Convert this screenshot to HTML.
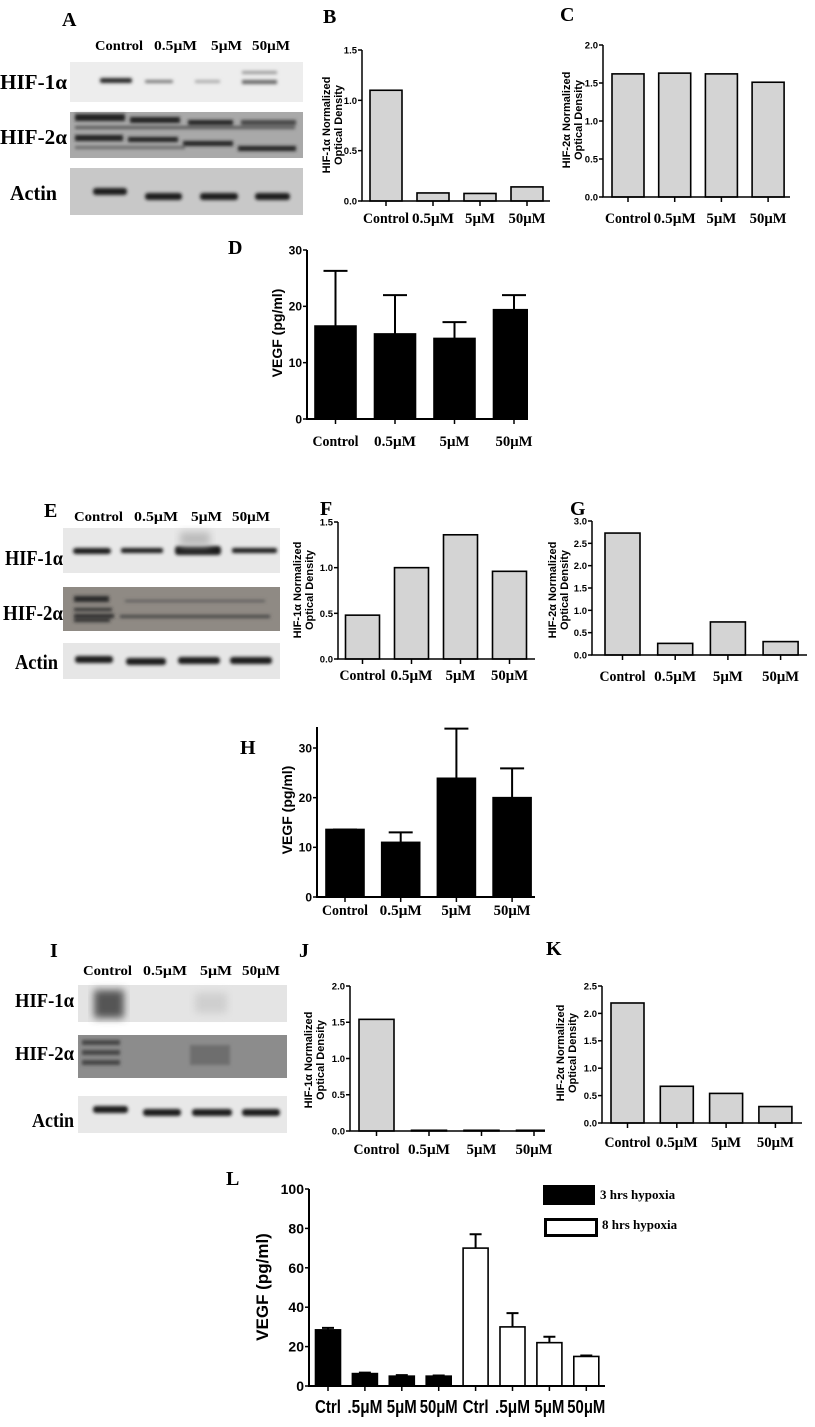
<!DOCTYPE html>
<html><head><meta charset="utf-8"><style>
html,body{margin:0;padding:0;background:#fff}
svg{display:block}
.lt{font-family:"Liberation Serif",serif;font-weight:bold;fill:#000}
.ax{font-family:"Liberation Sans",sans-serif;font-weight:bold;fill:#000}
</style></head><body>
<svg id="fig" width="815" height="1427" viewBox="0 0 815 1427" xmlns="http://www.w3.org/2000/svg">
<defs>
<filter id="bl" x="-20%" y="-50%" width="140%" height="200%"><feGaussianBlur stdDeviation="1.6"/></filter>
<filter id="bl2" x="-20%" y="-50%" width="140%" height="200%"><feGaussianBlur stdDeviation="4"/></filter>
</defs>

<g class="lt" font-size="20">
<text x="62" y="26">A</text>
<text x="323" y="23">B</text>
<text x="560" y="21">C</text>
<text x="228" y="254">D</text>
<text x="44" y="517">E</text>
<text x="320" y="515">F</text>
<text x="570" y="515">G</text>
<text x="240" y="754">H</text>
<text x="50" y="957">I</text>
<text x="299" y="957">J</text>
<text x="546" y="955">K</text>
<text x="226" y="1185">L</text>
</g>

<g>
<g class="lt" font-size="14">
<text x="95" y="50" textLength="48" lengthAdjust="spacingAndGlyphs">Control</text>
<text x="154" y="50" textLength="43" lengthAdjust="spacingAndGlyphs">0.5μM</text>
<text x="211" y="50" textLength="31" lengthAdjust="spacingAndGlyphs">5μM</text>
<text x="252" y="50" textLength="38" lengthAdjust="spacingAndGlyphs">50μM</text>
</g>
<g class="lt" font-size="21">
<text x="0" y="89" textLength="67" lengthAdjust="spacingAndGlyphs">HIF-1α</text>
<text x="0" y="144" textLength="67" lengthAdjust="spacingAndGlyphs">HIF-2α</text>
<text x="10" y="200" textLength="47" lengthAdjust="spacingAndGlyphs">Actin</text>
</g>
<rect x="70" y="62" width="233" height="40" fill="#ededed"/>
<g filter="url(#bl)" fill="#2a2a2a">
<rect x="100" y="78" width="32" height="5" rx="2"/>
<rect x="145" y="80" width="28" height="3" rx="1" fill="#777"/>
<rect x="195" y="80" width="25" height="3" fill="#aaa"/>
<rect x="242" y="80" width="35" height="4" fill="#666"/>
<rect x="242" y="71" width="35" height="3" fill="#999"/>
</g>
<rect x="70" y="112" width="233" height="46" fill="#a9a9a9"/>
<g filter="url(#bl)" fill="#222">
<rect x="75" y="114" width="50" height="7"/><rect x="130" y="117" width="50" height="6"/><rect x="188" y="120" width="45" height="5"/><rect x="241" y="120" width="55" height="5" fill="#444"/>
<rect x="75" y="126" width="220" height="3" fill="#555"/>
<rect x="75" y="135" width="48" height="6"/><rect x="128" y="137" width="50" height="5"/><rect x="183" y="141" width="50" height="5"/><rect x="238" y="146" width="58" height="5"/>
<rect x="75" y="146" width="110" height="3" fill="#666"/>
</g>
<rect x="70" y="168" width="233" height="47" fill="#c8c8c8"/>
<g filter="url(#bl)" fill="#1e1e1e">
<rect x="93" y="188" width="34" height="7" rx="3"/><rect x="145" y="193" width="37" height="7" rx="3"/><rect x="200" y="193" width="38" height="7" rx="3"/><rect x="255" y="193" width="35" height="7" rx="3"/>
</g>
</g>

<g>
<g class="lt" font-size="14">
<text x="74" y="521" textLength="49" lengthAdjust="spacingAndGlyphs">Control</text>
<text x="134" y="521" textLength="44" lengthAdjust="spacingAndGlyphs">0.5μM</text>
<text x="191" y="521" textLength="31" lengthAdjust="spacingAndGlyphs">5μM</text>
<text x="232" y="521" textLength="38" lengthAdjust="spacingAndGlyphs">50μM</text>
</g>
<g class="lt" font-size="21">
<text x="5" y="565" textLength="58" lengthAdjust="spacingAndGlyphs">HIF-1α</text>
<text x="3" y="620" textLength="60" lengthAdjust="spacingAndGlyphs">HIF-2α</text>
<text x="15" y="669" textLength="43" lengthAdjust="spacingAndGlyphs">Actin</text>
</g>
<rect x="63" y="528" width="217" height="45" fill="#e8e8e8"/>
<g filter="url(#bl)" fill="#1e1e1e">
<rect x="73" y="548" width="38" height="6" rx="3"/><rect x="121" y="548" width="42" height="5" rx="2"/><rect x="175" y="546" width="46" height="9" rx="3"/><rect x="232" y="548" width="45" height="5" rx="2"/>
</g>
<rect x="180" y="532" width="30" height="14" fill="#bbb" filter="url(#bl2)"/>
<rect x="63" y="587" width="217" height="44" fill="#8f8a84"/>
<g filter="url(#bl)" fill="#2a2a2a">
<rect x="74" y="596" width="35" height="6"/><rect x="74" y="608" width="38" height="3"/><rect x="74" y="614" width="40" height="4"/><rect x="74" y="619" width="36" height="3"/>
<rect x="120" y="615" width="150" height="3" fill="#444"/><rect x="125" y="600" width="140" height="2" fill="#555"/>
</g>
<rect x="63" y="643" width="217" height="36" fill="#e6e6e6"/>
<g filter="url(#bl)" fill="#1a1a1a">
<rect x="75" y="656" width="38" height="7" rx="3"/><rect x="126" y="658" width="40" height="7" rx="3"/><rect x="178" y="657" width="42" height="7" rx="3"/><rect x="230" y="657" width="42" height="7" rx="3"/>
</g>
</g>

<g>
<g class="lt" font-size="14">
<text x="83" y="975" textLength="49" lengthAdjust="spacingAndGlyphs">Control</text>
<text x="143" y="975" textLength="44" lengthAdjust="spacingAndGlyphs">0.5μM</text>
<text x="200" y="975" textLength="32" lengthAdjust="spacingAndGlyphs">5μM</text>
<text x="242" y="975" textLength="38" lengthAdjust="spacingAndGlyphs">50μM</text>
</g>
<g class="lt" font-size="20">
<text x="15" y="1007" textLength="59" lengthAdjust="spacingAndGlyphs">HIF-1α</text>
<text x="15" y="1060" textLength="59" lengthAdjust="spacingAndGlyphs">HIF-2α</text>
<text x="32" y="1127" textLength="42" lengthAdjust="spacingAndGlyphs">Actin</text>
</g>
<rect x="78" y="985" width="209" height="37" fill="#e4e4e4"/>
<rect x="94" y="990" width="30" height="28" fill="#555" filter="url(#bl2)"/>
<rect x="195" y="993" width="32" height="20" fill="#cfcfcf" filter="url(#bl2)"/>
<rect x="78" y="1035" width="209" height="43" fill="#8c8c8c"/>
<g filter="url(#bl)" fill="#444">
<rect x="82" y="1040" width="38" height="5"/><rect x="82" y="1050" width="38" height="5"/><rect x="82" y="1060" width="38" height="5"/>
<rect x="190" y="1045" width="40" height="20" fill="#6e6e6e"/>
</g>
<rect x="78" y="1096" width="209" height="37" fill="#e8e8e8"/>
<g filter="url(#bl)" fill="#1a1a1a">
<rect x="93" y="1106" width="35" height="7" rx="3"/><rect x="143" y="1109" width="38" height="7" rx="3"/><rect x="192" y="1109" width="40" height="7" rx="3"/><rect x="242" y="1109" width="38" height="7" rx="3"/>
</g>
</g>

<g id="charts"></g>
</svg>
<script>
const NS = "http://www.w3.org/2000/svg";
const cats = ["Control", "0.5μM", "5μM", "50μM"];
const catsL = ["Ctrl", ".5μM", "5μM", "50μM", "Ctrl", ".5μM", "5μM", "50μM"];
const bVals = [1.10, 0.08, 0.075, 0.14];
const bTicks = ["0.0", "0.5", "1.0", "1.5"];
const cVals = [1.62, 1.63, 1.62, 1.51];
const cTicks = ["0.0", "0.5", "1.0", "1.5", "2.0"];
const dVals = [16.5, 15.1, 14.3, 19.4];
const dErr = [26.3, 22.0, 17.2, 22.0];
const dTicks = ["0", "10", "20", "30"];
const fVals = [0.48, 1.00, 1.36, 0.96];
const fTicks = ["0.0", "0.5", "1.0", "1.5"];
const gVals = [2.73, 0.26, 0.74, 0.30];
const gTicks = ["0.0", "0.5", "1.0", "1.5", "2.0", "2.5", "3.0"];
const hVals = [13.6, 11.0, 23.9, 20.0];
const hErr = [13.6, 13.0, 33.9, 25.9];
const hTicks = ["0", "10", "20", "30"];
const jVals = [1.54, 0.01, 0.01, 0.01];
const jTicks = ["0.0", "0.5", "1.0", "1.5", "2.0"];
const kVals = [2.19, 0.67, 0.54, 0.30];
const kTicks = ["0.0", "0.5", "1.0", "1.5", "2.0", "2.5"];
const lVals = [28.5, 6.3, 5.0, 5.0, 70, 30, 22, 15];
const lErr = [29.5, 6.8, 5.5, 5.3, 77, 37, 25, 15.5];
const lTicks = ["0", "20", "40", "60", "80", "100"];
const lSeries = ["3 hrs  hypoxia", "8 hrs hypoxia"];

const labelW = {"Control": 46, "0.5μM": 42, "5μM": 30, "50μM": 37};
const labelWL = {"Ctrl": 26, ".5μM": 35, "5μM": 30, "50μM": 38};

const root = document.getElementById("charts");
function mk(tag, attrs, parent) {
  const e = document.createElementNS(NS, tag);
  for (const k in attrs) e.setAttribute(k, attrs[k]);
  parent.appendChild(e);
  return e;
}

function chart(name, cfg, labels, vals, errs, ticks, fillFn) {
  const g = mk("g", {}, root);
  
  
  const tmax = parseFloat(ticks[ticks.length - 1]);
  const y = v => cfg.y0 - v / tmax * (cfg.y0 - cfg.yTop);
  const x = i => cfg.c0 + i * cfg.step;
  const clipId = name + "-clip";
  const cp = mk("clipPath", {id: clipId}, g);
  mk("rect", {x: cfg.ax, y: 0, width: cfg.xEnd - cfg.ax, height: 1427}, cp);
  const bars = mk("g", {"clip-path": "url(#" + clipId + ")"}, g);
  vals.forEach((v, i) => {
    const r = mk("rect", {x: x(i) - cfg.bw / 2, y: y(v), width: cfg.bw, height: Math.max(0.5, cfg.y0 - y(v)),
      fill: fillFn(i), stroke: "#000", "stroke-width": cfg.sw || 1.6}, bars);
    
    
    if (errs) {
      const eg = mk("path", {d: "M" + x(i) + " " + y(v) + "V" + y(errs[i]) + "M" + (x(i) - cfg.cap) + " " + y(errs[i]) + "H" + (x(i) + cfg.cap),
        stroke: "#000", "stroke-width": 2, fill: "none"}, g);
      
      
    }
  });
  const axis = mk("path", {d: "M" + cfg.ax + " " + (cfg.axTop || cfg.yTop) + "V" + cfg.y0 + "H" + cfg.xEnd, stroke: "#000", "stroke-width": cfg.aw || 1.5, fill: "none"}, g);
  
  
  ticks.forEach(t => {
    const v = parseFloat(t);
    mk("path", {d: "M" + (cfg.ax - 4) + " " + y(v) + "H" + cfg.ax, stroke: "#000", "stroke-width": 1.5}, g);
    const tx = mk("text", {x: cfg.ax - 5, y: y(v) + cfg.tf * 0.36, "text-anchor": "end", class: "ax", "font-size": cfg.tf}, g);
    
    
    tx.textContent = t;
  });
  const widths = cfg.lw || labelW;
  labels.forEach((c, i) => {
    mk("path", {d: "M" + x(i) + " " + cfg.y0 + "v5", stroke: "#000", "stroke-width": 1.5}, g);
    const tx = mk("text", {x: x(i), y: cfg.ly, "text-anchor": "middle", class: cfg.lcls || "lt", "font-size": cfg.lf,
      textLength: widths[c], lengthAdjust: "spacingAndGlyphs"}, g);
    
    
    tx.textContent = c;
  });
  const tg = mk("text", {transform: "translate(" + cfg.tx + "," + cfg.ty + ") rotate(-90)", "text-anchor": "middle", class: "ax", "font-size": cfg.ttf}, g);
  
  
  cfg.title.forEach((line, k) => {
    const ts = mk("tspan", {x: 0, dy: k === 0 ? 0 : cfg.ttf * 1.1}, tg);
    ts.textContent = line;
  });
}

const grey = () => "#d4d4d4";
const black = () => "#000";
const odTitle1 = ["HIF-1α Normalized", "Optical Density"];
const odTitle2 = ["HIF-2α Normalized", "Optical Density"];

chart("chart-b", {ax: 362, xEnd: 550, c0: 386, step: 47, bw: 32, y0: 201, yTop: 50, tf: 9.5, ly: 223, lf: 15, tx: 330, ty: 125, ttf: 11, title: odTitle1}, cats, bVals, null, bTicks, grey);
chart("chart-c", {ax: 603, xEnd: 790, c0: 628, step: 46.7, bw: 32, y0: 197, yTop: 45, tf: 9.5, ly: 223, lf: 15, tx: 570, ty: 120, ttf: 11, title: odTitle2}, cats, cVals, null, cTicks, grey);
chart("chart-d", {ax: 307, xEnd: 528, c0: 335.5, step: 59.5, bw: 41, y0: 419, yTop: 250, tf: 12, ly: 446, lf: 15, tx: 282, ty: 333, ttf: 14, title: ["VEGF (pg/ml)"], cap: 12, aw: 2}, cats, dVals, dErr, dTicks, black);
chart("chart-f", {ax: 338, xEnd: 535, c0: 362.5, step: 49, bw: 34, y0: 659, yTop: 522, tf: 9.5, ly: 680, lf: 15, tx: 301, ty: 590, ttf: 11, title: odTitle1}, cats, fVals, null, fTicks, grey);
chart("chart-g", {ax: 592, xEnd: 807, c0: 622.5, step: 52.7, bw: 35, y0: 655, yTop: 521, tf: 9.5, ly: 681, lf: 15, tx: 556, ty: 590, ttf: 11, title: odTitle2}, cats, gVals, null, gTicks, grey);
chart("chart-h", {ax: 317, xEnd: 535, c0: 345, step: 55.7, bw: 38, y0: 897, yTop: 748, axTop: 727, tf: 12, ly: 915, lf: 15, tx: 292, ty: 810, ttf: 14, title: ["VEGF (pg/ml)"], cap: 12, aw: 2}, cats, hVals, hErr, hTicks, black);
chart("chart-j", {ax: 350, xEnd: 545, c0: 376.5, step: 52.5, bw: 35, y0: 1131, yTop: 986, tf: 9.5, ly: 1154, lf: 15, tx: 312, ty: 1060, ttf: 11, title: odTitle1}, cats, jVals, null, jTicks, grey);
chart("chart-k", {ax: 602, xEnd: 802, c0: 627.5, step: 49.3, bw: 33, y0: 1123, yTop: 986, tf: 9.5, ly: 1147, lf: 15, tx: 564, ty: 1053, ttf: 11, title: odTitle2}, cats, kVals, null, kTicks, grey);
chart("chart-l", {ax: 309, xEnd: 605, c0: 328, step: 36.9, bw: 25, y0: 1386, yTop: 1189, tf: 14, ly: 1413, lf: 18, lcls: "ax", lw: labelWL, tx: 268, ty: 1287, ttf: 17, title: ["VEGF (pg/ml)"], cap: 6, aw: 2}, catsL, lVals, lErr, lTicks, i => i < 4 ? "#000" : "#fff");

const lg = mk("g", {}, root);


const sw1 = mk("rect", {x: 543, y: 1185, width: 52, height: 20, fill: "#000"}, lg);


const sw2 = mk("rect", {x: 545.5, y: 1219.5, width: 51, height: 16, fill: "#fff", stroke: "#000", "stroke-width": 3}, lg);


lSeries.forEach((s, k) => {
  const t = mk("text", {x: k === 0 ? 600 : 602, y: k === 0 ? 1199 : 1229, class: "lt", "font-size": 13}, lg);
  
  
  t.textContent = s;
});
</script>
</body></html>
